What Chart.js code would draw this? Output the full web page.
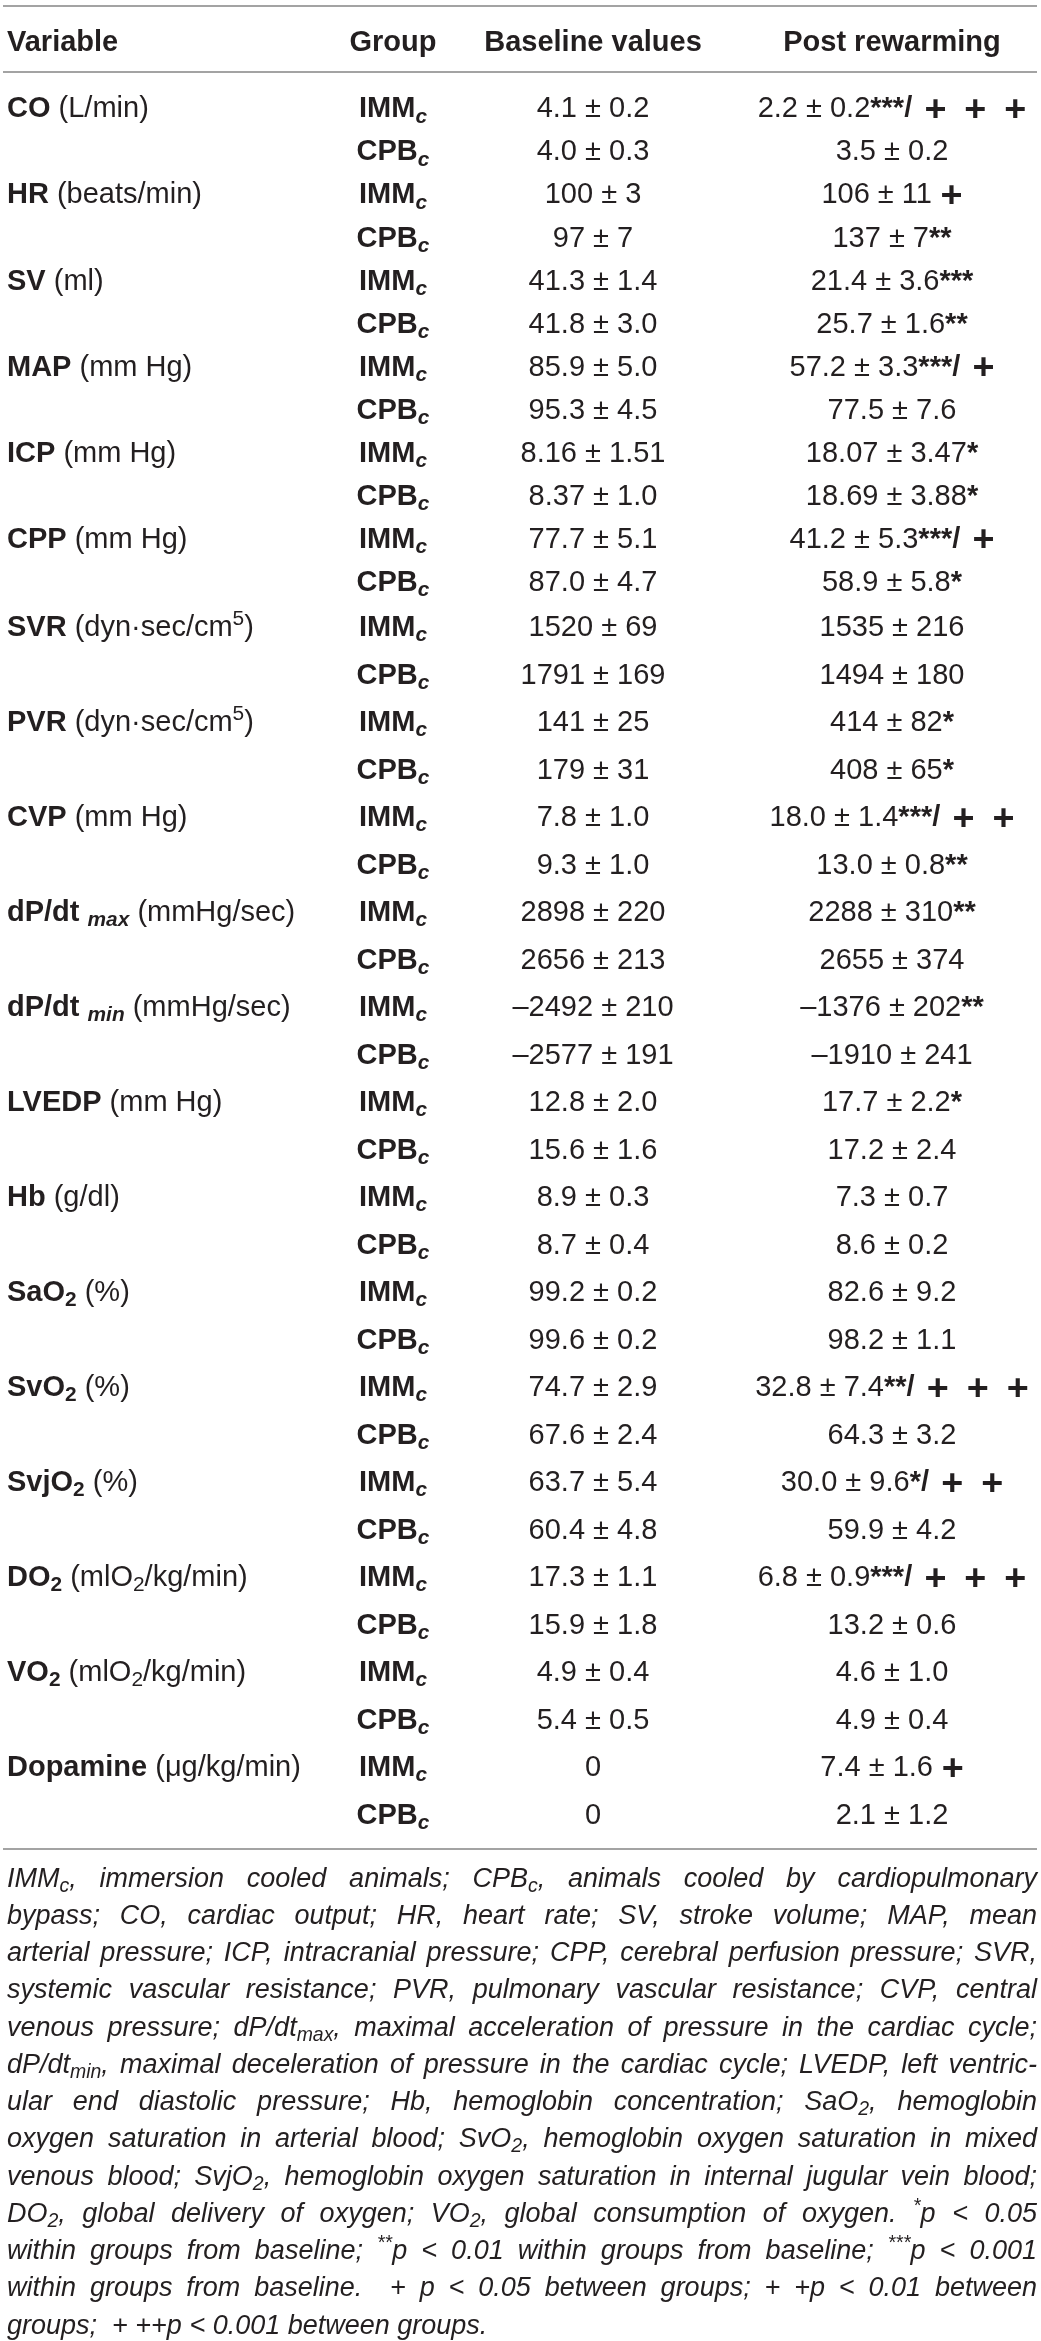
<!DOCTYPE html>
<html>
<head>
<meta charset="utf-8">
<title>Haemodynamic variables table</title>
<script src="https://cdn.jsdelivr.net/npm/chart.js@4.4.1/dist/chart.umd.min.js"></script>
<style>
  html, body { margin: 0; padding: 0; background: #fff; }
  body { width: 1041px; height: 2341px; overflow: hidden; }
  canvas { display: block; }
</style>
</head>
<body>
<canvas id="tableTop" width="1041" height="602"></canvas>
<canvas id="tableBottom" width="1041" height="1739"></canvas>
<script>
// ---- data (markup: _{x} subscript, _i{x} italic subscript, ^{x} superscript) ----
var headers = ["Variable", "Group", "Baseline values", "Post rewarming"];
var variables = ["CO", "HR", "SV", "MAP", "ICP", "CPP", "SVR", "PVR", "CVP",
  "dP/dt _i{max}", "dP/dt _i{min}", "LVEDP", "Hb", "SaO_{2}", "SvO_{2}", "SvjO_{2}",
  "DO_{2}", "VO_{2}", "Dopamine"];
var units = ["(L/min)", "(beats/min)", "(ml)", "(mm Hg)", "(mm Hg)", "(mm Hg)",
  "(dyn\u00b7sec/cm^{5})", "(dyn\u00b7sec/cm^{5})", "(mm Hg)", "(mmHg/sec)", "(mmHg/sec)",
  "(mm Hg)", "(g/dl)", "(%)", "(%)", "(%)", "(mlO_{2}/kg/min)", "(mlO_{2}/kg/min)",
  "(\u03bcg/kg/min)"];
var groups = ["IMM_i{c}", "CPB_i{c}"];

var baselineImm = ["4.1 \u00b1 0.2", "100 \u00b1 3", "41.3 \u00b1 1.4", "85.9 \u00b1 5.0",
  "8.16 \u00b1 1.51", "77.7 \u00b1 5.1", "1520 \u00b1 69", "141 \u00b1 25", "7.8 \u00b1 1.0",
  "2898 \u00b1 220", "\u20132492 \u00b1 210", "12.8 \u00b1 2.0", "8.9 \u00b1 0.3",
  "99.2 \u00b1 0.2", "74.7 \u00b1 2.9", "63.7 \u00b1 5.4", "17.3 \u00b1 1.1",
  "4.9 \u00b1 0.4", "0"];
var baselineCpb = ["4.0 \u00b1 0.3", "97 \u00b1 7", "41.8 \u00b1 3.0", "95.3 \u00b1 4.5",
  "8.37 \u00b1 1.0", "87.0 \u00b1 4.7", "1791 \u00b1 169", "179 \u00b1 31", "9.3 \u00b1 1.0",
  "2656 \u00b1 213", "\u20132577 \u00b1 191", "15.6 \u00b1 1.6", "8.7 \u00b1 0.4",
  "99.6 \u00b1 0.2", "67.6 \u00b1 2.4", "60.4 \u00b1 4.8", "15.9 \u00b1 1.8",
  "5.4 \u00b1 0.5", "0"];
var postImm = ["2.2 \u00b1 0.2", "106 \u00b1 11", "21.4 \u00b1 3.6", "57.2 \u00b1 3.3",
  "18.07 \u00b1 3.47", "41.2 \u00b1 5.3", "1535 \u00b1 216", "414 \u00b1 82", "18.0 \u00b1 1.4",
  "2288 \u00b1 310", "\u20131376 \u00b1 202", "17.7 \u00b1 2.2", "7.3 \u00b1 0.7",
  "82.6 \u00b1 9.2", "32.8 \u00b1 7.4", "30.0 \u00b1 9.6", "6.8 \u00b1 0.9",
  "4.6 \u00b1 1.0", "7.4 \u00b1 1.6"];
var postCpb = ["3.5 \u00b1 0.2", "137 \u00b1 7", "25.7 \u00b1 1.6", "77.5 \u00b1 7.6",
  "18.69 \u00b1 3.88", "58.9 \u00b1 5.8", "1494 \u00b1 180", "408 \u00b1 65", "13.0 \u00b1 0.8",
  "2655 \u00b1 374", "\u20131910 \u00b1 241", "17.2 \u00b1 2.4", "8.6 \u00b1 0.2",
  "98.2 \u00b1 1.1", "64.3 \u00b1 3.2", "59.9 \u00b1 4.2", "13.2 \u00b1 0.6",
  "4.9 \u00b1 0.4", "2.1 \u00b1 1.2"];
// significance marks: within group vs baseline (stars), between groups (number of +)
var starsImm = ["***", "", "***", "***", "*", "***", "", "*", "***", "**", "**", "*",
  "", "", "**", "*", "***", "", ""];
var starsCpb = ["", "**", "**", "", "*", "*", "", "*", "**", "", "", "",
  "", "", "", "", "", "", ""];
var plusImm = [3, 1, 0, 1, 0, 1, 0, 0, 2, 0, 0, 0, 0, 0, 3, 2, 3, 0, 1];

var footnote = [
  "IMM_{c}, immersion cooled animals; CPB_{c}, animals cooled by cardiopulmonary",
  "bypass; CO, cardiac output; HR, heart rate; SV, stroke volume; MAP, mean",
  "arterial pressure; ICP, intracranial pressure; CPP, cerebral perfusion pressure; SVR,",
  "systemic vascular resistance; PVR, pulmonary vascular resistance; CVP, central",
  "venous pressure; dP/dt_{max}, maximal acceleration of pressure in the cardiac cycle;",
  "dP/dt_{min}, maximal deceleration of pressure in the cardiac cycle; LVEDP, left ventric-",
  "ular end diastolic pressure; Hb, hemoglobin concentration; SaO_{2}, hemoglobin",
  "oxygen saturation in arterial blood; SvO_{2}, hemoglobin oxygen saturation in mixed",
  "venous blood; SvjO_{2}, hemoglobin oxygen saturation in internal jugular vein blood;",
  "DO_{2}, global delivery of oxygen; VO_{2}, global consumption of oxygen. ^{*}p < 0.05",
  "within groups from baseline; ^{**}p < 0.01 within groups from baseline; ^{***}p < 0.001",
  "within groups from baseline.  + p < 0.05 between groups; + +p < 0.01 between",
  "groups;  + ++p < 0.001 between groups."
];

// ---- look ----
var FAMILY = '"Liberation Sans", Arial, Helvetica, sans-serif';
var TEXT = "#231f20";
var RULE = "#a3a3a3";
var FS = 29;          // table text size
var NOTE_FS = 27;     // footnote size
var COLS = { variable: 7, group: 393, baseline: 593, post: 892 };

// ---- rich text helpers ----
function parseRich(str, bold, italic) {
  var out = [], re = /(_i|_|\^)\{([^}]*)\}/g, last = 0, m;
  while ((m = re.exec(str))) {
    if (m.index > last) out.push({ t: str.slice(last, m.index), b: bold, i: italic, s: 0 });
    out.push({ t: m[2], b: bold, i: italic || m[1] === "_i", s: m[1] === "^" ? 1 : -1 });
    last = re.lastIndex;
  }
  if (last < str.length) out.push({ t: str.slice(last), b: bold, i: italic, s: 0 });
  return out;
}

function fontFor(seg, size) {
  var px = (seg.s ? size * 0.72 : size) * (seg.k || 1);
  return (seg.i ? "italic " : "") + (seg.b ? "bold " : "") + px.toFixed(2) + "px " + FAMILY;
}

function shiftFor(seg, size) {
  if (seg.s < 0) return size * 0.18;
  if (seg.s > 0) return -size * 0.38;
  return (seg.dy || 0) * size;
}

function segWidth(ctx, seg, size) {
  if (seg.g) return seg.g * size;
  ctx.font = fontFor(seg, size);
  return ctx.measureText(seg.t).width;
}

function measureRich(ctx, segs, size) {
  var w = 0;
  segs.forEach(function (seg) { w += segWidth(ctx, seg, size); });
  return w;
}

// y is the visual middle of the capitals
function drawRich(ctx, segs, x, y, size, align) {
  var w = measureRich(ctx, segs, size);
  var cx = align === "center" ? x - w / 2 : x;
  var base = y + size * 0.358;
  ctx.textAlign = "left";
  ctx.textBaseline = "alphabetic";
  segs.forEach(function (seg) {
    if (!seg.g) {
      ctx.font = fontFor(seg, size);
      ctx.fillText(seg.t, cx, base + shiftFor(seg, size));
    }
    cx += segWidth(ctx, seg, size);
  });
}

// justified line: extra room is shared between the spaces
function drawJustified(ctx, segs, left, right, y, size, justify) {
  var avail = right - left, natural = 0, gaps = 0;
  segs.forEach(function (seg) {
    ctx.font = fontFor(seg, size);
    var parts = seg.t.split(" ");
    parts.forEach(function (p, k) {
      natural += ctx.measureText(p).width;
      if (k < parts.length - 1) { natural += ctx.measureText(" ").width; gaps++; }
    });
  });
  var sx = natural > avail ? avail / natural : 1;
  var extra = (justify && sx === 1 && gaps) ? (avail - natural) / gaps : 0;
  var base = y + size * 0.358, cx = 0;
  ctx.save();
  ctx.translate(left, 0);
  ctx.scale(sx, 1);
  ctx.textAlign = "left";
  ctx.textBaseline = "alphabetic";
  segs.forEach(function (seg) {
    ctx.font = fontFor(seg, size);
    var parts = seg.t.split(" ");
    parts.forEach(function (p, k) {
      ctx.fillText(p, cx, base + shiftFor(seg, size));
      cx += ctx.measureText(p).width;
      if (k < parts.length - 1) cx += ctx.measureText(" ").width + extra;
    });
  });
  ctx.restore();
}

// value, then bold stars, then "/" and the between-group plus signs
function postSegs(val, stars, plus) {
  var s = [{ t: val, b: false, i: false, s: 0 }];
  if (stars) s.push({ t: stars, b: true, i: false, s: 0 });
  if (plus) {
    if (stars) s.push({ t: "/", b: true, i: false, s: 0 });
    s.push({ g: stars ? 0.42 : 0.3 });
    for (var n = 0; n < plus; n++) {
      if (n) s.push({ g: 0.62 });
      s.push({ t: "+", b: true, i: false, s: 0, k: 1.3, dy: 0.12 });
    }
  }
  return s;
}

function rule(ctx, y) {
  ctx.save();
  ctx.strokeStyle = RULE;
  ctx.lineWidth = 2;
  ctx.beginPath();
  ctx.moveTo(3, y);
  ctx.lineTo(1037, y);
  ctx.stroke();
  ctx.restore();
}

// ---- rows: two per variable ----
var rowKeys = [], rowVar = [], rowGroup = [];
variables.forEach(function (v, i) {
  rowKeys.push(i + "-IMM", i + "-CPB");
  rowVar.push(i, i);
  rowGroup.push(0, 1);
});

function buildDatasets(from, to) {
  var keys = rowKeys.slice(from, to);
  var varPts = [], varCells = [], grpPts = [], grpCells = [];
  var basePts = [], baseCells = [], postPts = [], postCells = [];
  keys.forEach(function (key, k) {
    var r = from + k, v = rowVar[r], g = rowGroup[r];
    if (g === 0) {
      varPts.push({ x: COLS.variable, y: key });
      varCells.push(parseRich(variables[v], true, false)
        .concat(parseRich(" " + units[v], false, false)));
    }
    grpPts.push({ x: COLS.group, y: key });
    grpCells.push(parseRich(groups[g], true, false));
    basePts.push({ x: COLS.baseline, y: key });
    baseCells.push(parseRich(g === 0 ? baselineImm[v] : baselineCpb[v], false, false));
    postPts.push({ x: COLS.post, y: key });
    postCells.push(g === 0 ? postSegs(postImm[v], starsImm[v], plusImm[v])
                           : postSegs(postCpb[v], starsCpb[v], 0));
  });
  return {
    keys: keys,
    datasets: [
      { label: headers[0], data: varPts, cells: varCells, align: "left" },
      { label: headers[1], data: grpPts, cells: grpCells, align: "center" },
      { label: headers[2], data: basePts, cells: baseCells, align: "center" },
      { label: headers[3], data: postPts, cells: postCells, align: "center" }
    ]
  };
}

var tableCells = {
  id: "tableCells",
  afterDatasetsDraw: function (chart, args, opts) {
    var ctx = chart.ctx;
    ctx.save();
    ctx.fillStyle = TEXT;
    chart.data.datasets.forEach(function (ds, di) {
      chart.getDatasetMeta(di).data.forEach(function (pt, j) {
        drawRich(ctx, ds.cells[j], pt.x, pt.y, FS, ds.align);
      });
    });
    if (opts.extra) opts.extra(chart, ctx);
    ctx.restore();
  }
};

function makeTable(canvasId, from, to, padding, extra) {
  var built = buildDatasets(from, to);
  return new Chart(document.getElementById(canvasId), {
    type: "scatter",
    data: { datasets: built.datasets },
    options: {
      responsive: false,
      animation: false,
      events: [],
      layout: { padding: padding },
      elements: { point: { radius: 0, hoverRadius: 0 } },
      plugins: {
        legend: { display: false },
        tooltip: { enabled: false },
        tableCells: { extra: extra }
      },
      scales: {
        x: { type: "linear", min: 0, max: 1041, display: false },
        y: { type: "category", labels: built.keys, offset: true, display: false }
      }
    },
    plugins: [tableCells]
  });
}

// top part: header and first six variables (43 px rows)
makeTable("tableTop", 0, 12, { top: 85.5, bottom: 0, left: 0, right: 0 }, function (chart, ctx) {
  var top = chart.chartArea.top, x = chart.scales.x;
  rule(ctx, top - 79.5);
  rule(ctx, top - 13.5);
  var hy = top - 44.5;
  drawRich(ctx, parseRich(headers[0], true, false), x.getPixelForValue(COLS.variable), hy, FS, "left");
  drawRich(ctx, parseRich(headers[1], true, false), x.getPixelForValue(COLS.group), hy, FS, "center");
  drawRich(ctx, parseRich(headers[2], true, false), x.getPixelForValue(COLS.baseline), hy, FS, "center");
  drawRich(ctx, parseRich(headers[3], true, false), x.getPixelForValue(COLS.post), hy, FS, "center");
});

// bottom part: remaining variables (47.5 px rows), closing rule and footnote
makeTable("tableBottom", 12, rowKeys.length, { top: 0, bottom: 504, left: 0, right: 0 }, function (chart, ctx) {
  var bottom = chart.chartArea.bottom;
  rule(ctx, bottom + 12);
  footnote.forEach(function (line, i) {
    drawJustified(ctx, parseRich(line, false, true), 7, 1037, bottom + 40 + i * 37.25,
      NOTE_FS, i < footnote.length - 1);
  });
});
</script>
</body>
</html>
